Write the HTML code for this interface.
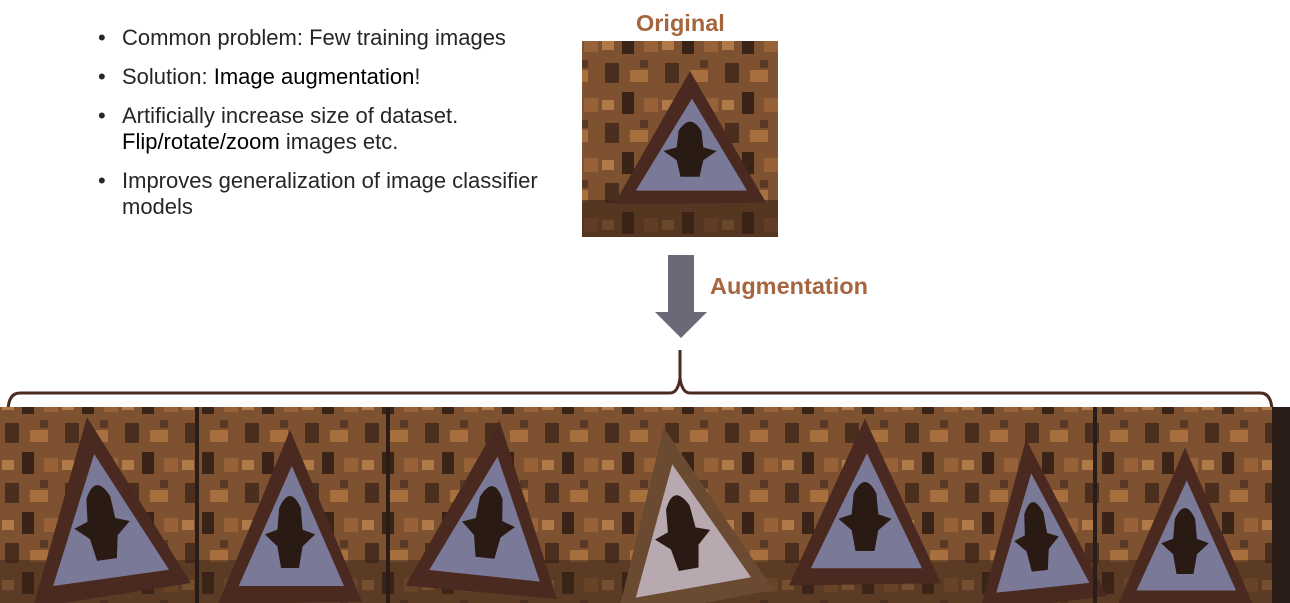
<!DOCTYPE html>
<html><head><style>
body{margin:0;width:1290px;height:603px;background:#fff;overflow:hidden;position:relative;font-family:"Liberation Sans",sans-serif}
ul{position:absolute;left:98px;top:25px;margin:0;padding:0;list-style:none;font-size:22px;color:#262626;line-height:26px}
li{position:relative;padding-left:24px;margin-bottom:13px}
li:before{content:"•";position:absolute;left:0;top:0}
b{font-weight:normal;color:#000}
.lbl{position:absolute;color:#a5653e;font-weight:bold;font-size:23.5px}
</style></head><body>
<ul>
<li>Common problem: Few training images</li>
<li>Solution: <b>Image augmentation</b>!</li>
<li>Artificially increase size of dataset.<br><b>Flip/rotate/zoom</b> images etc.</li>
<li>Improves generalization of image classifier<br>models</li>
</ul>
<div class="lbl" style="left:636px;top:10px">Original</div>
<div class="lbl" style="left:710px;top:273px">Augmentation</div>
<svg width="1290" height="603" style="position:absolute;left:0;top:0">
<defs>
<pattern id="tex" width="60" height="60" patternUnits="userSpaceOnUse">
<rect width="60" height="60" fill="#7e5230"/>
<rect x="5" y="3" width="14" height="20" fill="#4a2e1e"/>
<rect x="30" y="10" width="18" height="12" fill="#a8703f"/>
<rect x="22" y="32" width="12" height="22" fill="#3a2418"/>
<rect x="44" y="38" width="14" height="14" fill="#986238"/>
<rect x="2" y="40" width="12" height="10" fill="#b07a48"/>
<rect x="40" y="0" width="8" height="8" fill="#5a3a24"/>
</pattern>
<g id="sign">
<polygon points="0,-75 -80,70 80,68" fill="#4a2a20"/>
<polygon points="2,-45 -57,55 60,55" fill="#7a7a98"/>
<path d="M-12,-10 Q0,-30 12,-10 L14,8 L28,12 L14,22 L10,40 L-10,40 L-14,22 L-28,12 L-14,8Z" fill="#2a1a14"/>
</g>
</defs>
<rect x="582" y="41" width="196" height="196" fill="url(#tex)"/>
<rect x="582" y="200" width="196" height="37" fill="#3a2418" opacity=".6"/>
<use href="#sign" transform="translate(690,140) scale(0.95,0.92)"/>
<rect x="668" y="255" width="26" height="58" fill="#6b6878"/>
<polygon points="655,312 707,312 681,338" fill="#6b6878"/>
<path d="M8,412 Q8,393 20,393 L670,393 Q678,393 680,378 L680,350 M1272,412 Q1272,393 1260,393 L690,393 Q682,393 680,378" fill="none" stroke="#4a2a20" stroke-width="3"/>
<rect x="0" y="407" width="1290" height="196" fill="url(#tex)"/>
<rect x="1272" y="407" width="18" height="196" fill="#2a1c16"/>
<rect x="0" y="560" width="1272" height="43" fill="#3a2418" opacity=".5"/>
<use href="#sign" transform="translate(100,510) rotate(-8) scale(1,1.25)"/>
<use href="#sign" transform="translate(290,520) scale(0.9,1.2)"/>
<use href="#sign" transform="translate(490,510) rotate(6) scale(0.95,1.2)"/>
<g transform="translate(680,520) rotate(-10) scale(1,1.25)"><polygon points="0,-75 -80,70 80,68" fill="#6a4a30"/><polygon points="2,-45 -57,55 60,55" fill="#b8a8b0"/><path d="M-12,-10 Q0,-30 12,-10 L14,8 L28,12 L14,22 L10,40 L-10,40 L-14,22 L-28,12 L-14,8Z" fill="#2a1a14"/></g>
<use href="#sign" transform="translate(865,505) scale(0.95,1.15)"/>
<use href="#sign" transform="translate(1035,525) rotate(-6) scale(0.8,1.15)"/>
<use href="#sign" transform="translate(1185,530) scale(0.85,1.1)"/>
<g fill="#2a1c16"><rect x="195" y="407" width="4" height="196"/><rect x="386" y="407" width="4" height="196"/><rect x="1093" y="407" width="4" height="196"/></g>
</svg>
</body></html>
